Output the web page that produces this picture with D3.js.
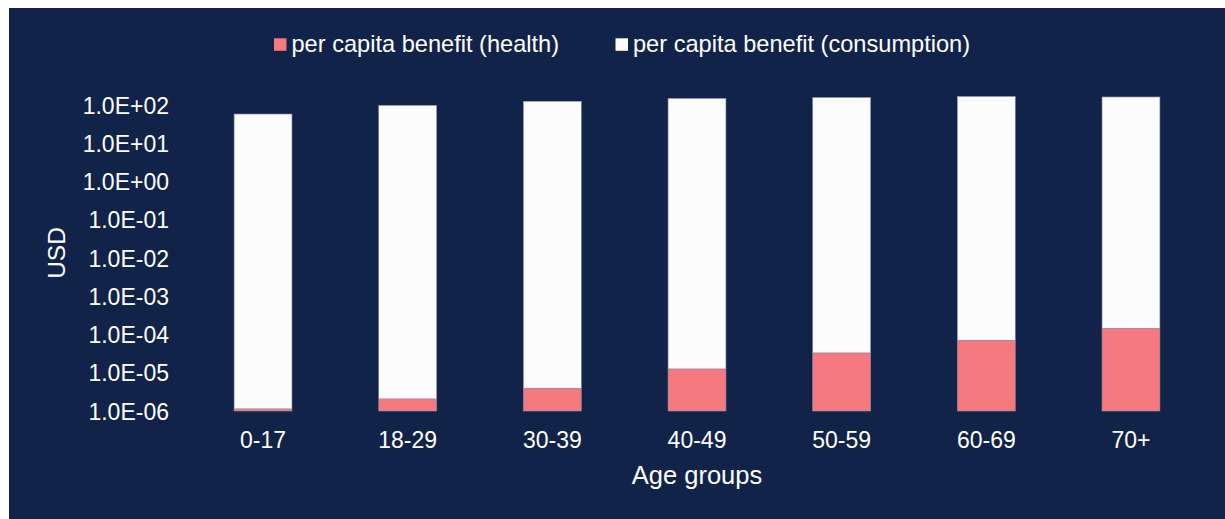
<!DOCTYPE html>
<html>
<head>
<meta charset="utf-8">
<script src="https://cdn.jsdelivr.net/npm/d3@7"></script>
<style>
  html, body { margin: 0; padding: 0; background: #ffffff; }
  svg { display: block; }
  text { font-family: "Liberation Sans", Arial, sans-serif; fill: #ffffff; }
</style>
</head>
<body>
<svg id="chart" width="1225" height="519"></svg>
<script>
const categories = ["0-17", "18-29", "30-39", "40-49", "50-59", "60-69", "70+"];
const healthBenefit = [1.13e-6, 2.06e-6, 3.9e-6, 1.25e-5, 3.28e-5, 7.05e-5, 1.42e-4];
const consumptionBenefit = [58, 98, 125, 148, 157, 167, 162];
const yTicks = [1e2, 1e1, 1e0, 1e-1, 1e-2, 1e-3, 1e-4, 1e-5, 1e-6];
const seriesNames = ["per capita benefit (health)", "per capita benefit (consumption)"];
const seriesColors = ["#f47a7f", "#fcfcfc"];

const svg = d3.select("#chart");
const W = 1225, H = 519;

svg.append("rect").attr("x", 9).attr("y", 8).attr("width", W - 9).attr("height", H - 8)
  .attr("fill", "#12234a");

const x = d3.scaleBand().domain(categories).range([190.7, 1203.3]).paddingInner(0.6).paddingOuter(0.3);
const y = d3.scaleLog().domain([1e-6, 1e2]).range([411, 105]);

const fmt = v => {
  const e = Math.round(Math.log10(v));
  const s = e < 0 ? "-" : "+";
  return "1.0E" + s + String(Math.abs(e)).padStart(2, "0");
};

// y axis labels
const yAxis = d3.axisLeft(y).tickValues(yTicks).tickFormat(fmt).tickSize(0).tickPadding(0);
const gy = svg.append("g").attr("transform", "translate(169,0)").call(yAxis);
gy.select(".domain").remove();
gy.selectAll("text").attr("font-size", "23px").attr("fill", "#ffffff")
  .attr("font-family", "'Liberation Sans', Arial, sans-serif").attr("dy", "0.35em");

// x axis labels
const xAxis = d3.axisBottom(x).tickSize(0).tickPadding(0);
const gx = svg.append("g").attr("transform", "translate(0,432)").call(xAxis);
gx.select(".domain").remove();
gx.selectAll("text").attr("font-size", "23px").attr("fill", "#ffffff")
  .attr("font-family", "'Liberation Sans', Arial, sans-serif").attr("dy", "0.71em");

// stacked bars
const data = categories.map((c, i) => ({ c, h: healthBenefit[i], t: healthBenefit[i] + consumptionBenefit[i] }));
const bars = svg.append("g");
bars.selectAll("rect.cons").data(data).join("rect")
  .attr("class", "cons")
  .attr("x", d => x(d.c)).attr("width", x.bandwidth())
  .attr("y", d => y(d.t)).attr("height", d => y(d.h) - y(d.t))
  .attr("fill", seriesColors[1]).attr("stroke", "#8b94ab").attr("stroke-width", 0.6);
bars.selectAll("rect.health").data(data).join("rect")
  .attr("class", "health")
  .attr("x", d => x(d.c)).attr("width", x.bandwidth())
  .attr("y", d => y(d.h)).attr("height", d => y(1e-6) - y(d.h))
  .attr("fill", seriesColors[0]).attr("stroke", "#9a8fa0").attr("stroke-width", 0.6);

// axis titles
svg.append("text").attr("x", 697).attr("y", 484).attr("text-anchor", "middle")
  .attr("font-size", "25.5px").text("Age groups");
svg.append("text").attr("transform", "translate(65,253) rotate(-90)").attr("text-anchor", "middle")
  .attr("font-size", "24.5px").text("USD");

// legend
const legend = [
  { sx: 274, tx: 291.5 },
  { sx: 615.5, tx: 633 }
];
legend.forEach((l, i) => {
  svg.append("rect").attr("x", l.sx).attr("y", 38.3).attr("width", 12.5).attr("height", 12.5)
    .attr("fill", seriesColors[i]);
  svg.append("text").attr("x", l.tx).attr("y", 52).attr("font-size", "23.6px").text(seriesNames[i]);
});
</script>
</body>
</html>
